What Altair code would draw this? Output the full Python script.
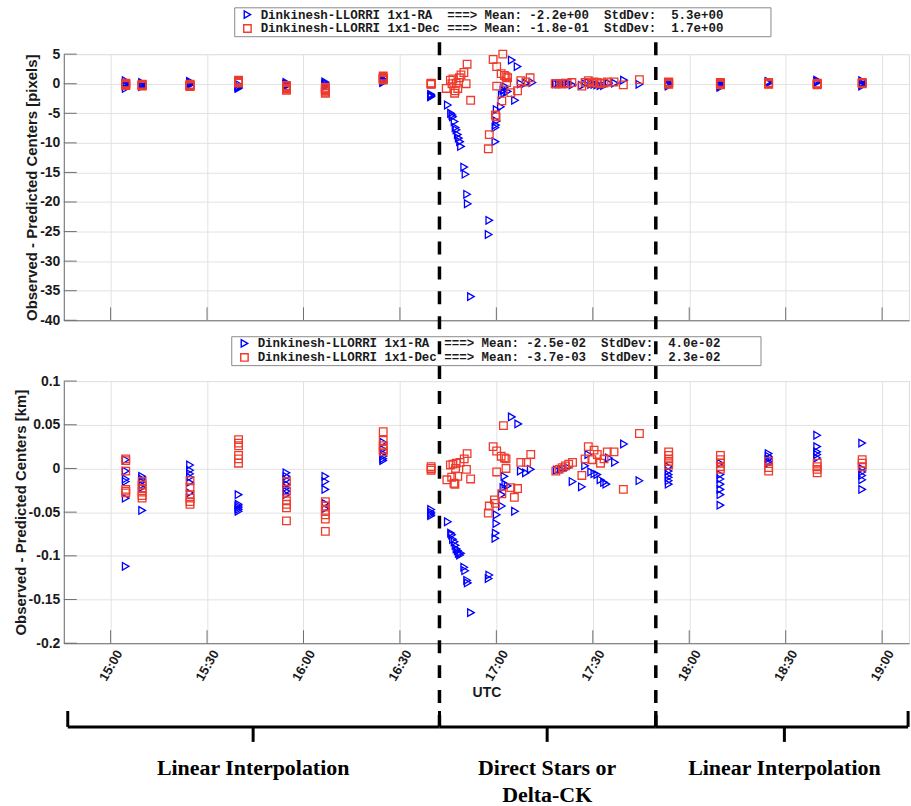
import altair as alt
import pandas as pd

DAY = "2023-11-01"
BLUE = "#0000ff"
RED = "#ee3b2c"
AXC = "#6f6f6f"
GRID = "#e2e2e2"
TXT = "#1a1a1a"

# ---------------- series labels / stats ----------------
top_labels = [
    "Dinkinesh-LLORRI 1x1-RA  ===> Mean: -2.2e+00  StdDev:  5.3e+00",
    "Dinkinesh-LLORRI 1x1-Dec ===> Mean: -1.8e-01  StdDev:  1.7e+00",
]
bot_labels = [
    "Dinkinesh-LLORRI 1x1-RA  ===> Mean: -2.5e-02  StdDev:  4.0e-02",
    "Dinkinesh-LLORRI 1x1-Dec ===> Mean: -3.7e-03  StdDev:  2.3e-02",
]

# ---------------- top panel (pixels) ----------------
top_ra_time = [
    "15:04:42", "15:04:42", "15:04:42", "15:04:42", "15:04:42", "15:04:42",
    "15:09:48", "15:09:48", "15:09:48", "15:09:48", "15:09:48", "15:09:48",
    "15:24:42", "15:24:42", "15:24:42", "15:24:42", "15:24:42", "15:24:42",
    "15:39:48", "15:39:48", "15:39:48", "15:39:48", "15:39:48", "15:39:48",
    "15:54:42", "15:54:42", "15:54:42", "15:54:42", "15:54:42", "15:54:42",
    "16:06:48", "16:06:48", "16:06:48", "16:06:48", "16:06:48",
    "16:24:48", "16:24:48", "16:24:48", "16:24:48", "16:24:48", "16:24:48",
    "16:39:42", "16:39:42", "16:39:42", "16:39:42", "16:39:42",
    "16:44:54", "16:45:54", "16:46:18", "16:46:30", "16:47:00", "16:47:18",
    "16:47:36", "16:48:00", "16:48:18", "16:48:42", "16:49:00", "16:50:00",
    "16:50:24", "16:50:54", "16:51:06", "16:52:06", "16:57:36", "16:57:48",
    "16:59:42", "16:59:42", "16:59:54", "17:00:06", "17:00:06", "17:01:24",
    "17:01:42", "17:02:12", "17:02:30", "17:02:48", "17:03:30", "17:04:48",
    "17:05:48", "17:06:36", "17:07:36", "17:09:12", "17:11:12",
    "17:18:30", "17:19:30", "17:20:30", "17:21:30", "17:22:30", "17:23:42",
    "17:26:36", "17:27:36", "17:28:36", "17:29:30", "17:30:30", "17:31:24",
    "17:32:24", "17:33:30", "17:35:00", "17:36:54", "17:39:42", "17:44:30",
    "17:53:36", "17:53:36", "17:53:36", "17:53:36", "17:53:36", "17:53:36",
    "18:09:42", "18:09:42", "18:09:42", "18:09:42", "18:09:42", "18:09:42",
    "18:24:42", "18:24:42", "18:24:42", "18:24:42",
    "18:39:48", "18:39:48", "18:39:48", "18:39:48",
    "18:53:48", "18:53:48", "18:53:48", "18:53:48", "18:53:48",
]
top_ra_val = [
    0.5, 0.1, -0.1, -0.2, -0.4, -0.8,
    0.2, 0.0, -0.1, -0.2, -0.3, -0.5,
    0.4, 0.2, 0.1, 0.0, -0.1, -0.2,
    -0.1, -0.4, -0.5, -0.6, -0.7, -0.8,
    0.2, 0.0, -0.1, -0.2, -0.3, -0.4,
    0.3, 0.1, -0.1, -0.3, -0.5,
    0.8, 0.6, 0.5, 0.4, 0.3, 0.2,
    -1.8, -1.9, -2.0, -2.1, -2.2,
    -3.6, -5.0, -5.3, -5.6, -6.4, -7.4,
    -7.8, -8.6, -9.2, -9.8, -10.6, -14.1,
    -15.3, -18.7, -20.3, -36.0, -25.5, -23.1,
    -9.8, -7.4, -7.0, -6.3, -4.4, -3.9,
    -1.9, -1.1, -1.6, -0.5, -1.3, 4.0,
    -2.8, 2.9, 0.0, 0.1, 0.2,
    0.0, 0.0, 0.0, 0.1, 0.0, -0.2,
    -0.3, 0.0, 0.2, -0.1, -0.1, -0.2,
    -0.3, -0.3, 0.1, 0.1, 0.6, -0.1,
    0.2, 0.1, 0.0, -0.1, -0.2, -0.4,
    0.1, 0.0, -0.2, -0.3, -0.4, -0.6,
    0.4, 0.3, 0.2, 0.1,
    0.6, 0.4, 0.3, 0.2,
    0.5, 0.1, 0.0, -0.2, -0.4,
]

top_dec_time = [
    "15:04:42", "15:04:42", "15:04:42", "15:04:42", "15:04:42",
    "15:09:48", "15:09:48", "15:09:48", "15:09:48", "15:09:48", "15:09:48",
    "15:24:42", "15:24:42", "15:24:42", "15:24:42", "15:24:42", "15:24:42",
    "15:39:48", "15:39:48", "15:39:48", "15:39:48", "15:39:48", "15:39:48",
    "15:54:42", "15:54:42", "15:54:42", "15:54:42", "15:54:42", "15:54:42",
    "16:06:48", "16:06:48", "16:06:48", "16:06:48", "16:06:48", "16:06:48",
    "16:24:48", "16:24:48", "16:24:48", "16:24:48", "16:24:48", "16:24:48",
    "16:39:42", "16:39:42", "16:39:42", "16:39:42",
    "16:44:24", "16:45:42", "16:46:12", "16:46:30", "16:47:00", "16:47:12",
    "16:47:30", "16:48:00", "16:48:30", "16:49:00", "16:49:54", "16:50:36",
    "16:50:54", "16:52:00", "16:57:30", "16:57:48", "16:59:00", "16:59:42",
    "16:59:54", "17:00:06", "17:00:06", "17:01:30", "17:01:42", "17:02:00",
    "17:02:30", "17:03:00", "17:03:30", "17:03:12", "17:04:30", "17:06:36",
    "17:07:36", "17:09:12", "17:10:30",
    "17:18:18", "17:19:00", "17:20:00", "17:21:00", "17:22:00", "17:23:30",
    "17:26:36", "17:27:36", "17:28:36", "17:29:42", "17:30:24", "17:31:24",
    "17:32:24", "17:33:30", "17:34:30", "17:36:36", "17:39:30", "17:44:30",
    "17:53:36", "17:53:36", "17:53:36", "17:53:36", "17:53:36",
    "18:09:42", "18:09:42", "18:09:42", "18:09:42", "18:09:42",
    "18:24:42", "18:24:42", "18:24:42",
    "18:39:48", "18:39:48", "18:39:48", "18:39:48",
    "18:53:48", "18:53:48", "18:53:48",
]
top_dec_val = [
    0.1, 0.0, -0.1, -0.2, -0.3,
    -0.1, -0.2, -0.2, -0.3, -0.3, -0.4,
    -0.1, -0.2, -0.3, -0.3, -0.4, -0.5,
    0.6, 0.5, 0.4, 0.3, 0.2, 0.1,
    -0.3, -0.5, -0.7, -0.8, -0.9, -1.1,
    -0.6, -0.8, -1.0, -1.2, -1.4, -1.6,
    1.3, 1.1, 0.9, 0.8, 0.7, 0.6,
    0.1, 0.0, 0.0, -0.1,
    -0.8, 0.6, 0.0, 0.8, -1.6, -1.2,
    0.1, -0.8, 1.0, 1.5, 1.9, 0.0,
    3.3, -2.8, -11.0, -8.6, 4.1, -5.3,
    -5.6, 2.9, -0.4, 1.7, -2.9, 5.0,
    1.4, 1.2, 1.0, 0.2, -1.5, -1.2,
    0.5, 0.3, 1.0,
    0.0, 0.0, 0.0, 0.0, 0.1, 0.2,
    -0.4, 0.2, 0.5, 0.1, 0.3, 0.2,
    0.0, 0.1, 0.3, 0.3, -0.2, 0.7,
    0.3, 0.2, 0.1, 0.0, -0.1,
    0.2, 0.1, 0.0, -0.1, -0.2,
    0.2, 0.0, -0.1,
    0.1, 0.0, -0.1, -0.2,
    0.2, 0.1, 0.0,
]

# ---------------- bottom panel (km) ----------------
bot_ra_time = [
    "15:04:42", "15:04:42", "15:04:42", "15:04:42", "15:04:42", "15:04:42",
    "15:09:48", "15:09:48", "15:09:48", "15:09:48", "15:09:48", "15:09:48",
    "15:24:42", "15:24:42", "15:24:42", "15:24:42", "15:24:42", "15:24:42",
    "15:39:48", "15:39:48", "15:39:48", "15:39:48", "15:39:48", "15:39:48",
    "15:54:42", "15:54:42", "15:54:42", "15:54:42", "15:54:42", "15:54:42", "15:54:42",
    "16:06:48", "16:06:48", "16:06:48", "16:06:48", "16:06:48",
    "16:24:48", "16:24:48", "16:24:48", "16:24:48", "16:24:48", "16:24:48",
    "16:39:42", "16:39:42", "16:39:42", "16:39:42",
    "16:44:54", "16:45:54", "16:46:12", "16:46:30", "16:47:00", "16:47:18",
    "16:47:36", "16:48:00", "16:48:18", "16:48:42", "16:49:00", "16:50:00",
    "16:50:18", "16:50:54", "16:51:06", "16:52:06", "16:57:36", "16:57:48",
    "16:59:42", "16:59:48", "17:00:00", "17:00:06", "17:01:42", "17:01:42",
    "17:02:12", "17:02:48", "17:03:30", "17:02:30", "17:05:48", "17:04:48",
    "17:06:48", "17:07:36", "17:09:12", "17:10:42",
    "17:18:48", "17:20:00", "17:21:12", "17:22:18", "17:23:42", "17:26:36",
    "17:27:36", "17:28:36", "17:29:30", "17:30:30", "17:31:24", "17:32:24",
    "17:33:30", "17:34:12", "17:35:00", "17:36:54", "17:39:42", "17:44:30",
    "17:53:36", "17:53:36", "17:53:36", "17:53:36", "17:53:36", "17:53:36",
    "18:09:42", "18:09:42", "18:09:42", "18:09:42", "18:09:42", "18:09:42", "18:09:42",
    "18:24:42", "18:24:42", "18:24:42", "18:24:42", "18:24:42",
    "18:39:48", "18:39:48", "18:39:48", "18:39:48", "18:39:48",
    "18:53:48", "18:53:48", "18:53:48", "18:53:48", "18:53:48", "18:53:48",
]
bot_ra_val = [
    0.010, -0.003, -0.012, -0.015, -0.034, -0.112,
    -0.009, -0.012, -0.015, -0.019, -0.022, -0.048,
    0.004, -0.002, -0.006, -0.010, -0.016, -0.028,
    -0.030, -0.041, -0.043, -0.045, -0.047, -0.049,
    -0.005, -0.009, -0.013, -0.018, -0.022, -0.026, -0.030,
    -0.009, -0.015, -0.024, -0.040, -0.046,
    0.030, 0.022, 0.017, 0.014, 0.011, 0.009,
    -0.047, -0.050, -0.052, -0.054,
    -0.061, -0.074, -0.076, -0.081, -0.084, -0.088,
    -0.092, -0.094, -0.097, -0.099, -0.097, -0.113,
    -0.117, -0.128, -0.131, -0.165, -0.126, -0.122,
    -0.080, -0.074, -0.063, -0.053, -0.043, -0.030,
    -0.022, -0.018, -0.020, -0.009, -0.049, 0.059,
    0.051, -0.003, -0.005, -0.001,
    -0.002, -0.001, 0.000, 0.001, -0.015, -0.021,
    0.003, 0.016, -0.004, -0.006, -0.007, -0.013,
    -0.016, -0.018, 0.012, 0.007, 0.028, -0.014,
    0.002, -0.003, -0.007, -0.010, -0.014, -0.018,
    0.006, -0.007, -0.012, -0.018, -0.024, -0.030, -0.042,
    0.017, 0.014, 0.011, 0.008, 0.006,
    0.038, 0.025, 0.019, 0.016, 0.012,
    0.029, 0.000, -0.004, -0.008, -0.013, -0.024,
]

bot_dec_time = [
    "15:04:42", "15:04:42", "15:04:42", "15:04:42", "15:04:42", "15:04:42",
    "15:09:48", "15:09:48", "15:09:48", "15:09:48", "15:09:48", "15:09:48",
    "15:24:42", "15:24:42", "15:24:42", "15:24:42", "15:24:42", "15:24:42",
    "15:39:48", "15:39:48", "15:39:48", "15:39:48", "15:39:48", "15:39:48",
    "15:54:42", "15:54:42", "15:54:42", "15:54:42", "15:54:42", "15:54:42",
    "16:06:48", "16:06:48", "16:06:48", "16:06:48", "16:06:48", "16:06:48",
    "16:24:48", "16:24:48", "16:24:48", "16:24:48", "16:24:48",
    "16:39:42", "16:39:42", "16:39:42",
    "16:44:36", "16:45:42", "16:46:06", "16:46:30", "16:46:48", "16:47:06",
    "16:47:18", "16:47:30", "16:48:00", "16:48:42", "16:50:00", "16:50:42",
    "16:50:54", "16:52:00", "16:57:30", "16:57:48", "16:59:00", "16:59:24",
    "16:59:42", "17:00:06", "17:00:06", "17:01:30", "17:01:42", "17:02:12",
    "17:02:30", "17:03:00", "17:03:00", "17:04:30", "17:05:36", "17:06:36",
    "17:07:36", "17:09:24", "17:10:42",
    "17:18:30", "17:19:30", "17:20:30", "17:21:30", "17:22:30", "17:23:42",
    "17:26:36", "17:27:36", "17:28:36", "17:29:42", "17:30:24", "17:31:24",
    "17:32:24", "17:33:30", "17:34:30", "17:36:36", "17:39:30", "17:44:30",
    "17:53:36", "17:53:36", "17:53:36", "17:53:36", "17:53:36",
    "18:09:42", "18:09:42", "18:09:42", "18:09:42", "18:09:42",
    "18:24:42", "18:24:42", "18:24:42",
    "18:39:48", "18:39:48", "18:39:48", "18:39:48",
    "18:53:48", "18:53:48", "18:53:48",
]
bot_dec_val = [
    0.011, 0.009, -0.003, -0.024, -0.026, -0.028,
    -0.015, -0.019, -0.023, -0.027, -0.031, -0.034,
    -0.014, -0.022, -0.030, -0.034, -0.038, -0.041,
    0.033, 0.029, 0.026, 0.015, 0.011, 0.006,
    -0.015, -0.026, -0.037, -0.041, -0.045, -0.060,
    -0.038, -0.043, -0.048, -0.053, -0.058, -0.072,
    0.042, 0.032, 0.026, 0.022, 0.019,
    0.002, 0.000, -0.002,
    -0.013, 0.004, -0.010, 0.005, -0.017, -0.018,
    0.000, 0.006, -0.009, 0.007, 0.011, -0.001,
    0.017, -0.012, -0.051, -0.043, 0.025, -0.036,
    -0.040, 0.020, -0.004, 0.014, -0.029, 0.049,
    0.012, 0.011, 0.000, -0.022, -0.033, -0.023,
    0.007, 0.007, 0.016,
    -0.003, -0.001, 0.001, 0.003, 0.005, 0.007,
    -0.008, 0.011, 0.025, 0.010, 0.021, 0.016,
    0.006, 0.011, 0.019, 0.019, -0.024, 0.040,
    0.019, 0.015, 0.011, 0.008, 0.004,
    0.015, 0.010, 0.006, 0.002, -0.001,
    0.008, 0.001, -0.003,
    0.006, 0.002, -0.001, -0.005,
    0.010, 0.006, 0.002,
]

# ---------------- axes / annotations ----------------
x_domain = ["14:45:26", "19:08:22"]
x_tick_times = ["15:00:00", "15:30:00", "16:00:00", "16:30:00", "17:00:00",
                "17:30:00", "18:00:00", "18:30:00", "19:00:00"]
top_yticks = [5, 0, -5, -10, -15, -20, -25, -30, -35, -40]
bot_yticks = [0.1, 0.05, 0, -0.05, -0.1, -0.15, -0.2]
boundary_times = ["16:42:18", "17:49:36"]
bracket_start = ["14:46:40", "16:42:18", "17:49:36"]
bracket_end = ["16:42:18", "17:49:36", "19:08:05"]
bracket_tip = ["15:44:20", "17:15:48", "18:29:36"]
bracket_text = ["Linear Interpolation", "Direct Stars or\nDelta-CK", "Linear Interpolation"]

for a, b in [(top_ra_time, top_ra_val), (top_dec_time, top_dec_val),
             (bot_ra_time, bot_ra_val), (bot_dec_time, bot_dec_val)]:
    assert len(a) == len(b), (len(a), len(b))

W = 848
H_TOP = 267
H_BOT = 263
NB = "\u00a0"
ZW = "\u200b"


def iso(t):
    return f"{DAY}T{t}Z"


def dt(t):
    h, m, s = (int(p) for p in t.split(":"))
    return alt.DateTime(year=2023, month=11, date=1, hours=h, minutes=m, seconds=s, utc=True)


def lab(s, pad):
    return s.replace(" ", NB) + NB * pad + ZW


def series_df(ra_t, ra_v, dec_t, dec_v, labels, pad):
    ra = pd.DataFrame({"t": [iso(t) for t in ra_t], "v": ra_v, "series": lab(labels[0], pad), "o": 0})
    dec = pd.DataFrame({"t": [iso(t) for t in dec_t], "v": dec_v, "series": lab(labels[1], pad), "o": 1})
    return pd.concat([ra, dec], ignore_index=True)


x_scale = alt.Scale(type="utc", domain=[dt(x_domain[0]), dt(x_domain[1])])
x_vals = [dt(t) for t in x_tick_times]
MINUS = "\u2212"
y_label_expr = f"replace(format(datum.value, '~g'), '{MINUS}', '-')"


def legend(lx, ly):
    return alt.Legend(
        title=None, orient="none", legendX=lx, legendY=ly,
        labelFont="Liberation Mono", labelFontWeight="bold", labelFontSize=12.5,
        labelColor=TXT, labelLimit=2000, labelOffset=7, symbolOffset=6,
        symbolSize=55, symbolStrokeWidth=1.4,
        strokeColor="#8a8a8a", padding=1, rowPadding=0,
    )


def y_axis(yticks, ytitle):
    return alt.Axis(
        values=yticks, tickCount=len(yticks), title=ytitle, ticks=False, grid=True,
        gridColor=GRID, domainColor=AXC, labelExpr=y_label_expr, labelFontSize=14,
        labelFontWeight="bold", labelColor=TXT, labelPadding=4, labelOverlap=False,
        titleFontSize=15, titleFontWeight="bold", titleColor=TXT, titlePadding=0)


def panel(df, labels, pad, ydom, yticks, ytitle, height, xaxis, leg):
    yscale = alt.Scale(domain=ydom, nice=False, zero=False)
    yax = y_axis(yticks, ytitle)
    dom = [lab(labels[0], pad), lab(labels[1], pad)]
    pts = alt.Chart(df).mark_point(filled=False, size=58, strokeWidth=1.3, opacity=1).encode(
        x=alt.X("t:T", scale=x_scale, axis=xaxis),
        y=alt.Y("v:Q", scale=yscale, axis=yax),
        color=alt.Color("series:N", scale=alt.Scale(domain=dom, range=[BLUE, RED]), legend=leg),
        shape=alt.Shape("series:N", scale=alt.Scale(domain=dom, range=["triangle-right", "square"]), legend=leg),
        order=alt.Order("o:Q"),
    )
    xt = alt.Chart(pd.DataFrame({"t": [iso(t) for t in x_tick_times]})).mark_rule(
        color=AXC, strokeWidth=1).encode(
        x=alt.X("t:T", scale=x_scale, axis=xaxis),
        y=alt.value(height - 13), y2=alt.value(height))
    yt = alt.Chart(pd.DataFrame({"v": yticks})).mark_rule(color=AXC, strokeWidth=1).encode(
        y=alt.Y("v:Q", scale=yscale, axis=yax),
        x=alt.value(0), x2=alt.value(13))
    return alt.layer(pts, xt, yt).properties(width=W, height=height)


TOP_PAD = 6
BOT_PAD = 5
top_df = series_df(top_ra_time, top_ra_val, top_dec_time, top_dec_val, top_labels, TOP_PAD)
bot_df = series_df(bot_ra_time, bot_ra_val, bot_dec_time, bot_dec_val, bot_labels, BOT_PAD)

top_xaxis = alt.Axis(values=x_vals, labels=False, ticks=False, title=None, grid=True,
                     gridColor=GRID, domainColor=AXC)
bot_xaxis = alt.Axis(values=x_vals, format="%H:%M", labelAngle=300, labelAlign="center",
                     labelBaseline="middle", labelPadding=22, labelFontSize=13,
                     labelFontWeight="bold", labelColor=TXT, ticks=False, grid=True,
                     gridColor=GRID, domainColor=AXC, title="UTC", titleFontSize=14,
                     titleFontWeight="bold", titleColor=TXT, titlePadding=3)

top = panel(top_df, top_labels, TOP_PAD, [-40, 5], top_yticks,
            "Observed - Predicted Centers [pixels]", H_TOP, top_xaxis, legend(171, -47))
bot_base = panel(bot_df, bot_labels, BOT_PAD, [-0.2, 0.1], bot_yticks,
                 "Observed - Predicted Centers [km]", H_BOT, bot_xaxis, legend(168, -45))

# annotations (drawn in bottom panel, extending outside its plot area)
bdf = pd.DataFrame({"t": [iso(t) for t in boundary_times]})
dashes = alt.Chart(bdf).mark_rule(color="black", strokeWidth=3.5, strokeDash=[13, 12]).encode(
    x=alt.X("t:T", scale=x_scale, axis=bot_xaxis),
    y=alt.value(-340), y2=alt.value(347))

ends = pd.DataFrame({"t": [iso(t) for t in bracket_start + bracket_end]})
br_ends = alt.Chart(ends).mark_rule(color="black", strokeWidth=3).encode(
    x=alt.X("t:T", scale=x_scale, axis=bot_xaxis), y=alt.value(331), y2=alt.value(347))
spans = pd.DataFrame({"t": [iso(t) for t in bracket_start], "t2": [iso(t) for t in bracket_end]})
br_h = alt.Chart(spans).mark_rule(color="black", strokeWidth=3).encode(
    x=alt.X("t:T", scale=x_scale, axis=bot_xaxis), x2="t2:T", y=alt.value(347))
tips = pd.DataFrame({"t": [iso(t) for t in bracket_tip], "txt": bracket_text})
br_tip = alt.Chart(tips).mark_rule(color="black", strokeWidth=3).encode(
    x=alt.X("t:T", scale=x_scale, axis=bot_xaxis), y=alt.value(347), y2=alt.value(362))
br_txt = alt.Chart(tips).mark_text(
    font="Liberation Serif", fontWeight="bold", fontSize=22, color="black",
    align="center", baseline="alphabetic", lineBreak="\n", lineHeight=27).encode(
    x=alt.X("t:T", scale=x_scale, axis=bot_xaxis), y=alt.value(395), text="txt:N")

bot = alt.layer(bot_base, dashes, br_ends, br_h, br_tip, br_txt).properties(width=W, height=H_BOT)

chart = alt.vconcat(top, bot, spacing=61, bounds="flush").resolve_scale(
    color="independent", shape="independent"
).properties(
    padding={"left": 12, "top": 5, "right": 0, "bottom": 0}
).configure_view(stroke=None).configure_axis(
    labelFont="Liberation Sans", titleFont="Liberation Sans", labelOverlap=False
).configure(background="white")

chart.save("out.html", embed_options={"renderer": "svg", "actions": False})
